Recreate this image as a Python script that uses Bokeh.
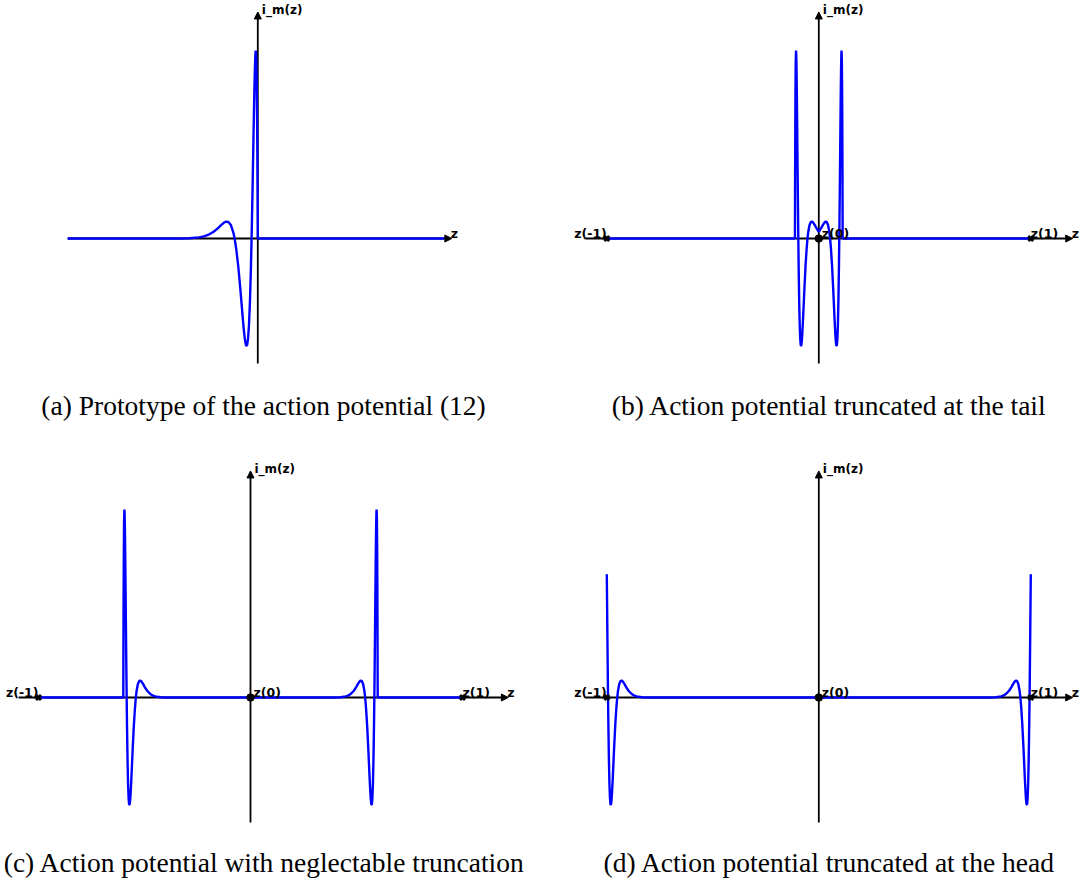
from bokeh.plotting import figure
from bokeh.layouts import gridplot
from bokeh.models import Range1d, Arrow, NormalHead, Label
from bokeh.core.properties import value
from bokeh.embed import file_html
from bokeh.resources import INLINE

# ---------------------------------------------------------------------------
# Prototype action potential profile
# ap_t : distance behind the pulse head (prototype units)
# ap_i : membrane current, normalised to the spike peak
ap_t = [0.0, 0.05, 0.1, 0.15, 0.2, 0.3, 0.42, 0.5, 0.6, 0.7, 0.8, 0.9, 1.0,
        1.1, 1.2, 1.27, 1.4, 1.6, 1.8, 2.0, 2.2, 2.4, 2.6, 2.8, 3.0, 3.3, 3.6,
        4.0, 4.4, 4.73, 5.0, 5.5, 6.0, 6.5, 7.0, 7.5, 8.0, 9.0, 10.0, 11.0,
        12.0, 14.0, 16.0, 20.0]
ap_i = [0.0, 0.2685, 0.485, 0.655, 0.785, 0.945, 1.0, 0.976, 0.900, 0.788,
        0.655, 0.511, 0.364, 0.221, 0.086, 0.0, -0.150, -0.333, -0.460,
        -0.536, -0.570, -0.569, -0.543, -0.499, -0.444, -0.351, -0.257,
        -0.145, -0.056, 0.0, 0.033, 0.072, 0.088, 0.090, 0.082, 0.071, 0.058,
        0.036, 0.021, 0.011, 0.0057, 0.0014, 0.0003, 0.0]

# Pulses per panel: (head position, direction, t from, t to)
# direction +1: head on the right, tail to the left; -1: mirrored
pulses_a = [(0.0, +1, 0.0, 20.0)]
pulses_b = [(-9.0, -1, 0.0, 9.0), (9.0, +1, 0.0, 9.0)]      # truncated at the tail
pulses_c = [(-48.0, -1, 0.0, 20.0), (48.0, +1, 0.0, 20.0)]  # neglectable truncation
pulses_d = [(-80.8, -1, 0.8, 20.0), (80.8, +1, 0.8, 20.0)]  # truncated at the head

curve_a = (-38.8, 38.0)
curve_bcd = (-80.0, 80.0)

z_marks = [-80.0, 0.0, 80.0]
z_mark_labels = ["z(-1)", "z(0)", "z(1)"]

captions = ["(a) Prototype of the action potential (12)",
            "(b) Action potential truncated at the tail",
            "(c) Action potential with neglectable truncation",
            "(d) Action potential truncated at the head"]

axis_y = (-0.665, 1.205)
# ---------------------------------------------------------------------------

BLUE = "#0000ff"
LBL_FONT = value("DejaVu Sans")
LBL_SIZE = "12.5px"


def build_curve(pulses, lo, hi):
    xs, ys = [], []
    for head, d, t0, t1 in pulses:
        pts = [(t, v) for t, v in zip(ap_t, ap_i) if t0 - 1e-9 <= t <= t1 + 1e-9]
        if d == +1:
            pts = pts[::-1]
            seg = [(head - t, v) for t, v in pts]
        else:
            seg = [(head + t, v) for t, v in pts]
        for z, v in seg:
            xs.append(z)
            ys.append(v)
    if xs[0] > lo + 1e-6:
        xs.insert(0, lo)
        ys.insert(0, 0.0)
    if xs[-1] < hi - 1e-6:
        xs.append(hi)
        ys.append(0.0)
    return xs, ys


def make_panel(width, height, z0_px, px_per_unit, axis_px, pulses, crange,
               xaxis, caption, cap_x, cap_y, marks):
    yscale = 188.0
    xr = Range1d(-z0_px / px_per_unit, (width - z0_px) / px_per_unit)
    yr = Range1d(-(height - axis_px) / yscale, axis_px / yscale)
    p = figure(width=width, height=height, x_range=xr, y_range=yr,
               x_axis_type=None, y_axis_type=None, toolbar_location=None,
               output_backend="svg", min_border=0, outline_line_color=None,
               background_fill_color="white", border_fill_color="white")
    p.grid.visible = False

    head = dict(size=7, fill_color="black", line_color="black", line_width=1)
    p.add_layout(Arrow(end=NormalHead(**head), x_start=xaxis[0], y_start=0,
                       x_end=xaxis[1], y_end=0, line_width=1.8,
                       line_color="black", level="underlay"))
    p.add_layout(Arrow(end=NormalHead(**head), x_start=0, y_start=axis_y[0],
                       x_end=0, y_end=axis_y[1], line_width=1.8,
                       line_color="black", level="underlay"))

    xs, ys = build_curve(pulses, *crange)
    p.line(xs, ys, line_color=BLUE, line_width=2.4)

    if marks:
        p.scatter([z_marks[0], z_marks[2]], [0, 0], marker="x", size=7,
                  line_width=3, color="black")
        p.scatter([z_marks[1]], [0], marker="circle", size=7.5, color="black")
        aligns = ["right", "left", "left"]
        xoffs = [0, 3, 0]
        for zm, lab, al, xo in zip(z_marks, z_mark_labels, aligns, xoffs):
            p.text([zm], [0], text=[lab], text_font=LBL_FONT,
                   text_font_style="bold", text_font_size=LBL_SIZE,
                   text_align=al, text_baseline="alphabetic",
                   x_offset=xo, y_offset=-5, text_color="black")

    p.text([0], [axis_y[1]], text=["i_m(z)"], text_font=LBL_FONT,
           text_font_style="bold", text_font_size="12px", text_align="left",
           text_baseline="middle", x_offset=4, y_offset=-2, text_color="black")
    p.text([xaxis[1]], [0], text=["z"], text_font=LBL_FONT,
           text_font_style="bold", text_font_size=LBL_SIZE, text_align="left",
           text_baseline="alphabetic", x_offset=-1, y_offset=-5,
           text_color="black")

    p.add_layout(Label(x=cap_x, y=cap_y, x_units="screen", y_units="screen",
                       text=caption, text_font="Liberation Serif",
                       text_font_size="27.5px", text_align="center",
                       text_baseline="middle", text_color="black"))
    return p


W_L, W_R, H = 542, 543, 441

pa = make_panel(W_L, H, 257.3, 4.9, 238, pulses_a, curve_a, (-38.8, 39.6),
                captions[0], 263, 36, False)
pb = make_panel(W_R, H, 276.3, 2.65, 238, pulses_b, curve_bcd, (-88.0, 95.8),
                captions[1], 287, 36, True)
pc = make_panel(W_L, H, 250.0, 2.65, 256, pulses_c, curve_bcd, (-87.5, 97.3),
                captions[2], 264, 20, True)
pd = make_panel(W_R, H, 276.3, 2.65, 256, pulses_d, curve_bcd, (-88.0, 95.8),
                captions[3], 287, 20, True)

grid = gridplot([[pa, pb], [pc, pd]], toolbar_location=None)

open("out.html", "w").write(file_html(grid, INLINE))
